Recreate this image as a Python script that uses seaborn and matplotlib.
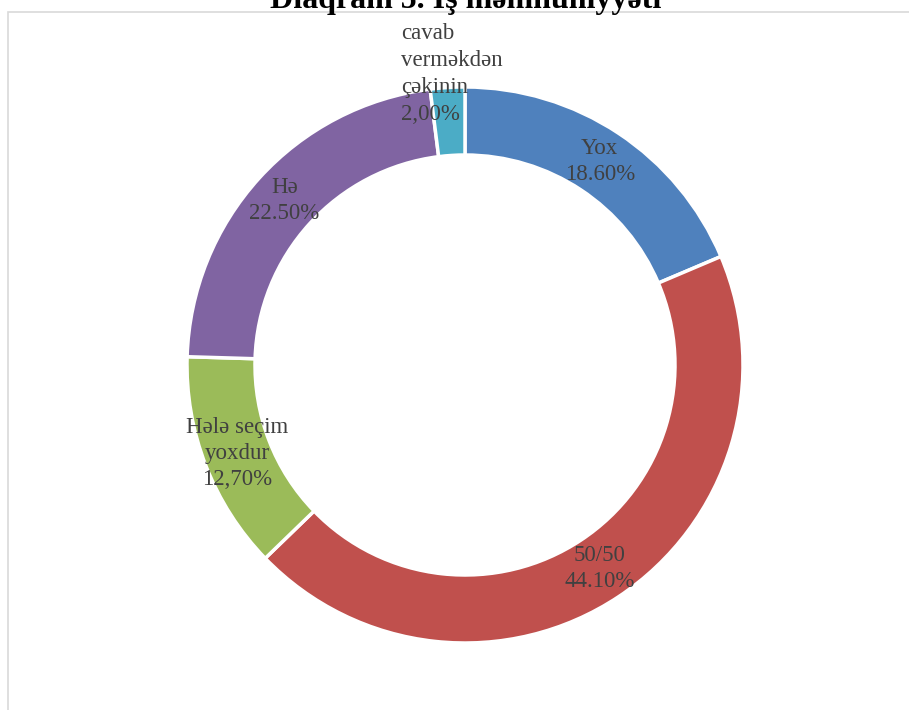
import numpy as np
import matplotlib
matplotlib.use("Agg")
import matplotlib.pyplot as plt
from matplotlib.patches import Rectangle
import seaborn as sns

sns.set_theme(style="white")
plt.rcParams["font.family"] = ["Liberation Serif", "DejaVu Serif"]

# Survey answers, clockwise from the top
categories = ["Yox", "50/50", "Hələ seçim\nyoxdur", "Hə", "cavab\nverməkdən\nçəkinin"]
values = [18.6, 44.1, 12.7, 22.5, 2.0]
value_labels = ["18.60%", "44.10%", "12,70%", "22.50%", "2,00%"]
colors = ["#4F81BD", "#C0504D", "#9BBB59", "#8064A2", "#4BACC6"]
title = "Diaqram 5. İş məmnuniyyəti"

W, H = 909, 710
fig = plt.figure(figsize=(W / 100, H / 100), dpi=100)
ax = fig.add_axes([0, 0, 1, 1])

cx, cy = 465, H - 365
r_out, r_in = 278, 210
ring = r_out - r_in

ax.pie(
    values, colors=colors, startangle=90, counterclock=False,
    center=(cx, cy), radius=r_out, frame=True,
    wedgeprops=dict(width=ring, edgecolor="white", linewidth=2.5),
)
ax.set_xlim(0, W)
ax.set_ylim(0, H)
ax.set_aspect("equal")
ax.axis("off")

# Labels at the middle of each ring segment
total = sum(values)
r_mid = (r_out + r_in) / 2
cum = 0
for i, (cat, v, lab) in enumerate(zip(categories, values, value_labels)):
    ang = np.deg2rad(90 - (cum + v / 2) / total * 360)
    cum += v
    x = cx + r_mid * np.cos(ang)
    y = cy + r_mid * np.sin(ang)
    txt = f"{cat}\n{lab}"
    if i == 4:
        # small slice: label sits above the ring, left aligned
        ax.text(401, H - 74, txt, ha="left", va="center", fontsize=16.5,
                color="#404040", linespacing=1.38)
    else:
        ax.text(x, y, txt, ha="center", va="center", fontsize=16.5,
                color="#404040", linespacing=1.32)

# chart frame
fig.patches.append(Rectangle((8 / W, -0.1), 1.2, (H - 12) / H + 0.1,
                             transform=fig.transFigure, fill=False,
                             edgecolor="#D9D9D9", linewidth=1.2))
fig.text(466 / W, (H - 8) / H, title, ha="center", va="baseline",
         fontsize=23, fontweight="bold", color="black")

fig.savefig("out.png", dpi=100)
